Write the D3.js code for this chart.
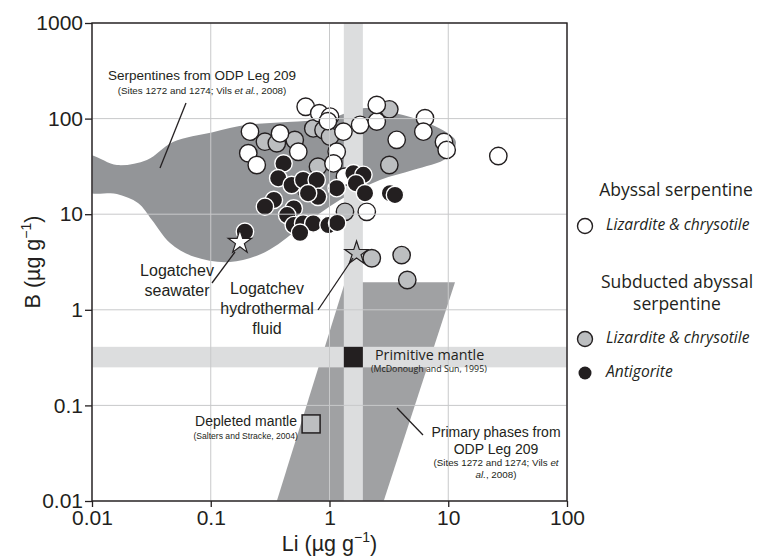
<!DOCTYPE html>
<html><head><meta charset="utf-8">
<script src="https://cdn.jsdelivr.net/npm/d3@7"></script>
<style>
body{margin:0;background:#fff;}
svg text{font-family:"Liberation Sans",Arial,sans-serif;}
.os{font-family:"Open Sans","Noto Sans",sans-serif !important;}
</style></head>
<body><svg id="c" width="757" height="556"></svg>
<script>
// ---------- data ----------
const xTicks = [0.01, 0.1, 1, 10, 100];
const xTickLabels = ["0.01", "0.1", "1", "10", "100"];
const yTicks = [0.01, 0.1, 1, 10, 100, 1000];
const yTickLabels = ["0.01", "0.1", "1", "10", "100", "1000"];

// Abyssal serpentine, lizardite & chrysotile [Li, B]
const abyssalLiz = [
  [0.63,133],[0.82,114],[1.01,105],[0.97,94],[1.31,73],[1.81,86],[2.50,93],[2.50,139],
  [6.37,101],[6.17,73],[3.68,60],[9.2,57],[9.7,47],[26.4,40.6],[0.214,73],[0.383,70],
  [0.546,45],[0.207,43.4],[0.244,32.7],[1.15,45],[1.08,34],[1.35,24.7],[2.06,10.6]
];
// Subducted abyssal serpentine, lizardite & chrysotile
const subductedLiz = [
  [0.73,79],[0.89,76],[1.01,64.7],[0.286,57.3],[0.36,55.2],[0.51,59.7],[3.19,125],
  [3.19,32.7],[0.80,31.4],[1.35,10.6],[2.27,3.46],[4.05,3.74],[4.52,2.05],[0.64,17.9]
];
// Subducted abyssal serpentine, antigorite
const antigorite = [
  [0.41,34],[0.37,23.8],[0.48,20.2],[0.60,22.8],[0.78,22.8],[0.80,15.2],[1.15,18.7],
  [1.59,26.8],[1.93,25.8],[1.67,21.1],[1.99,16.6],[0.34,14.1],[0.286,12.0],[0.50,11.5],
  [0.66,16.6],[3.23,16.6],[3.56,15.9],[0.194,6.56],[0.44,9.8],[0.50,7.7],[0.60,8.0],
  [0.73,8.0],[0.98,7.7],[1.16,8.1],[0.565,6.4]
];
// Serpentines from ODP Leg 209 field outline [Li, B]
const odpSerpentineField = [
  [0.009,41],[0.0162,32.7],[0.029,37],[0.048,57],[0.104,72],[0.202,86],[0.44,92],
  [1.01,101],[1.99,129],[4.16,109],[7.0,88],[9.8,71],[11.6,57],[9.8,39],[5.05,29],
  [2.66,22.8],[1.22,14.1],[0.565,7.2],[0.286,4.0],[0.145,3.16],[0.0737,3.56],
  [0.0454,5.0],[0.032,8.7],[0.0244,13.1],[0.0162,16.3],[0.009,17.5]
];
// Primary phases from ODP Leg 209 field [Li, B]
const primaryPhasesField = [[1.35,1.94],[11.4,1.94],[2.86,0.01],[0.36,0.01]];
// Primitive mantle (McDonough and Sun, 1995)
const primitiveLiBand = [1.32, 1.91];
const primitiveBBand = [0.25, 0.41];
const primitiveMantle = [1.6, 0.32];
// Depleted mantle (Salters and Stracke, 2004)
const depletedMantle = [0.70, 0.064];
// Logatchev
const logatchevSeawater = [0.176, 5.1];
const logatchevFluid = [1.69, 3.9];

// ---------- drawing ----------
const svg = d3.select("#c");
const X0 = 92, X1 = 567, Y0 = 23, Y1 = 501;
const x = d3.scaleLog().domain([0.01, 100]).range([X0, X1]);
const y = d3.scaleLog().domain([0.01, 1000]).range([Y1, Y0]);

svg.append("defs").append("clipPath").attr("id","clip")
  .append("rect").attr("x",X0).attr("y",Y0).attr("width",X1-X0).attr("height",Y1-Y0);
const g = svg.append("g").attr("clip-path","url(#clip)");

const FIELD = "#939598", BAND = "#dcddde", GRID = "#c8c9ca";

// primary phases field
g.append("path").attr("d", d3.line().x(d=>x(d[0])).y(d=>y(d[1]))(primaryPhasesField)+"Z")
  .attr("fill", "#a0a1a3");
// serpentine field
g.append("path").attr("d", d3.line().x(d=>x(d[0])).y(d=>y(d[1])).curve(d3.curveCatmullRomClosed.alpha(0.5))(odpSerpentineField))
  .attr("fill", FIELD);

// bands
g.append("rect").attr("x", x(primitiveLiBand[0])).attr("width", x(primitiveLiBand[1])-x(primitiveLiBand[0]))
  .attr("y", Y0).attr("height", Y1-Y0).attr("fill", BAND);
g.append("rect").attr("x", X0).attr("width", X1-X0)
  .attr("y", y(primitiveBBand[1])).attr("height", y(primitiveBBand[0])-y(primitiveBBand[1])).attr("fill", BAND);

// grid
const grid = svg.append("g");
xTicks.forEach(t => grid.append("line").attr("x1",x(t)).attr("x2",x(t)).attr("y1",Y0).attr("y2",Y1).attr("stroke",GRID).attr("stroke-width",1));
yTicks.forEach(t => grid.append("line").attr("x1",X0).attr("x2",X1).attr("y1",y(t)).attr("y2",y(t)).attr("stroke",GRID).attr("stroke-width",1));

// primitive mantle square
g.append("rect").attr("x", x(primitiveLiBand[0])).attr("width", x(primitiveLiBand[1])-x(primitiveLiBand[0]))
  .attr("y", y(primitiveBBand[1])).attr("height", y(primitiveBBand[0])-y(primitiveBBand[1])).attr("fill", "#231f20");
// depleted mantle square
g.append("rect").attr("x", x(depletedMantle[0])-9).attr("y", y(depletedMantle[1])-9)
  .attr("width",18).attr("height",18).attr("fill","#bcbec0").attr("stroke","#231f20").attr("stroke-width",1.5);

// leader lines
const lead = [
  [[186,103],[160,168]],
  [[212,283],[235,252]],
  [[318,310],[353,258]],
  [[397,408],[423,435]]
];
lead.forEach(l => svg.append("line").attr("x1",l[0][0]).attr("y1",l[0][1]).attr("x2",l[1][0]).attr("y2",l[1][1])
  .attr("stroke","#231f20").attr("stroke-width",1.3));

// points
const R = 8.7;
g.selectAll(".gl").data(subductedLiz).join("circle").attr("cx",d=>x(d[0])).attr("cy",d=>y(d[1])).attr("r",R)
  .attr("fill","#bcbec0").attr("stroke","#231f20").attr("stroke-width",1.4);
g.selectAll(".al").data(abyssalLiz).join("circle").attr("cx",d=>x(d[0])).attr("cy",d=>y(d[1])).attr("r",R)
  .attr("fill","#fff").attr("stroke","#231f20").attr("stroke-width",1.4);
g.selectAll(".an").data(antigorite).join("circle").attr("cx",d=>x(d[0])).attr("cy",d=>y(d[1])).attr("r",R)
  .attr("fill","#231f20").attr("stroke","#fff").attr("stroke-width",1.4);

// stars
const star = d3.symbol(d3.symbolStar, 170);
g.append("path").attr("d", star()).attr("transform",`translate(${x(logatchevSeawater[0])},${y(logatchevSeawater[1])})`)
  .attr("fill","#fff").attr("stroke","#231f20").attr("stroke-width",1.2);
g.append("path").attr("d", star()).attr("transform",`translate(${x(logatchevFluid[0])},${y(logatchevFluid[1])})`)
  .attr("fill","#bcbec0").attr("stroke","#231f20").attr("stroke-width",1.2);

// frame
svg.append("rect").attr("x",X0).attr("y",Y0).attr("width",X1-X0).attr("height",Y1-Y0)
  .attr("fill","none").attr("stroke","#231f20").attr("stroke-width",1.4);

// axes
const ax = svg.append("g").attr("transform",`translate(0,${Y1})`)
  .call(d3.axisBottom(x).tickValues(xTicks).tickFormat((d,i)=>xTickLabels[i]).tickSize(6).tickPadding(3));
const ay = svg.append("g").attr("transform",`translate(${X0},0)`)
  .call(d3.axisLeft(y).tickValues(yTicks).tickFormat((d,i)=>yTickLabels[i]).tickSize(7).tickPadding(2));
[ax, ay].forEach(a => {
  a.select(".domain").remove();
  a.selectAll("line").attr("stroke","#231f20").attr("stroke-width",1.3);
  a.selectAll("text").attr("fill","#231f20").style("font-size","21px").style("font-family","Liberation Sans, Arial, sans-serif");
});

// axis titles
const xt = svg.append("text").attr("x",(X0+X1)/2).attr("y",551).attr("text-anchor","middle").attr("font-size",21.5).attr("fill","#231f20");
xt.append("tspan").text("Li (µg g");
xt.append("tspan").text("−1").attr("font-size",14).attr("dy",-9);
xt.append("tspan").text(")").attr("dy",9);
const yt = svg.append("text").attr("transform",`translate(40,${(Y0+Y1)/2}) rotate(-90)`).attr("text-anchor","middle").attr("font-size",21.5).attr("fill","#231f20");
yt.append("tspan").text("B (µg g");
yt.append("tspan").text("−1").attr("font-size",14).attr("dy",-9);
yt.append("tspan").text(")").attr("dy",9);

// annotations
function txt(s, px, py, size, anchor, cls, style){
  const t = svg.append("text").attr("x",px).attr("y",py).attr("font-size",size).attr("text-anchor",anchor||"middle").attr("fill","#231f20").attr("dominant-baseline","middle");
  if (s) t.text(s);
  if (cls) t.attr("class",cls);
  if (style) t.attr("font-style",style);
  return t;
}
txt("Serpentines from ODP Leg 209", 202, 76, 13.5);
{ const t = txt("", 202, 91, 9.8); t.append("tspan").text("(Sites 1272 and 1274; Vils "); t.append("tspan").text("et al.").attr("font-style","italic"); t.append("tspan").text(", 2008)"); }
txt("Logatchev", 177, 272, 16);
txt("seawater", 177, 292, 16);
txt("Logatchev", 267, 290, 16);
txt("hydrothermal", 267, 310, 16);
txt("fluid", 267, 330, 16);
txt("Primitive mantle", 375, 356, 14.3, "start", "os");
txt("(McDonough and Sun, 1995)", 371, 370, 8.8, "start", "os");
txt("Depleted mantle", 297, 422, 14, "end");
txt("(Salters and Stracke, 2004)", 298, 437, 8.6, "end");
txt("Primary phases from", 496, 433, 14);
txt("ODP Leg 209", 496, 450, 14);
{ const t = txt("", 496, 463, 9.8); t.append("tspan").text("(Sites 1272 and 1274; Vils "); t.append("tspan").text("et").attr("font-style","italic"); }
{ const t = txt("", 496, 475, 9.8); t.append("tspan").text("al.").attr("font-style","italic"); t.append("tspan").text(", 2008)"); }

// legend
txt("Abyssal serpentine", 676, 191, 17.5, "middle", "os");
svg.append("circle").attr("cx",585).attr("cy",226).attr("r",7.5).attr("fill","#fff").attr("stroke","#231f20").attr("stroke-width",1.4);
txt("Lizardite & chrysotile", 606, 226, 15.6, "start", "os", "italic");
txt("Subducted abyssal", 677, 283, 17.5, "middle", "os");
txt("serpentine", 677, 305, 17.5, "middle", "os");
svg.append("circle").attr("cx",585).attr("cy",339).attr("r",7.5).attr("fill","#bcbec0").attr("stroke","#231f20").attr("stroke-width",1.4);
txt("Lizardite & chrysotile", 606, 339, 15.6, "start", "os", "italic");
svg.append("circle").attr("cx",585).attr("cy",373).attr("r",6.5).attr("fill","#231f20");
txt("Antigorite", 606, 373, 15.6, "start", "os", "italic");
</script></body></html>
